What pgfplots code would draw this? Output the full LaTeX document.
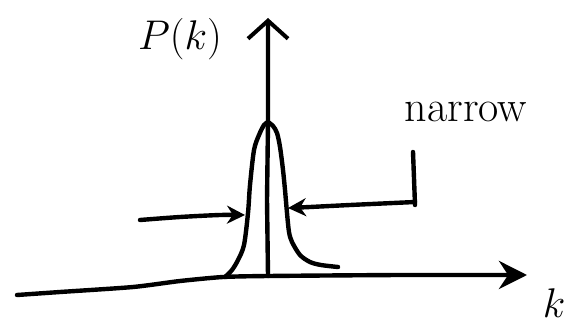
\documentclass[border=0pt]{standalone}
\usepackage{pgfplots}
\pgfplotsset{compat=1.18}
\usetikzlibrary{arrows.meta}

\begin{document}
\begin{tikzpicture}
\begin{axis}[
  x=0.5pt, y=0.5pt,
  xmin=0, xmax=576, ymin=0, ymax=327,
  hide axis, clip=false,
  every axis plot/.append style={black, line width=2.2pt, line cap=round, line join=round},
]
% frame for the page size
\path (rel axis cs:0,0) rectangle (rel axis cs:1,1);

% k axis (slightly sloping in from the left)
\addplot[smooth, tension=0.4, -{Stealth[length=14pt,width=14pt]}] coordinates {
  (17,32) (60,35) (133,40) (180,46) (223,50) (268,51) (400,52) (527,52)};

% P(k) axis
\addplot[-{Straight Barb[length=9pt,width=20pt,line width=2pt]}] coordinates {
  (268,51) (267,127) (268,205) (268,309)};

% narrow peak
\addplot[smooth, tension=0.5] coordinates {
  (225,50) (232,57) (238,67) (244,82) (248,114) (250,142) (254,177) (259,192) (264,202) (268,205)};
\addplot[smooth, tension=0.5] coordinates {
  (268,205) (273,201) (277,194) (280,180) (283,157) (285,137) (287,114) (289,95) (292,85) (300,72) (310,65) (321,62) (338,60)};

% width markers
\addplot[smooth, -{Stealth[length=9pt,width=9pt,open]}] coordinates {
  (140,107) (180,110) (220,112) (245,112)};
\addplot[smooth, -{Stealth[length=9pt,width=9pt,open]}] coordinates {
  (415,125) (350,122) (310,120) (288,119)};
\addplot[black, no markers] coordinates {(413,175) (415,122)};

% labels
\node[font=\fontsize{21}{21}\selectfont] at (axis cs:180,288) {$P(k)$};
\node[font=\fontsize{22}{22}\selectfont] at (axis cs:466,215) {narrow};
\node[font=\fontsize{21}{21}\selectfont] at (axis cs:554,24) {$k$};
\end{axis}
\end{tikzpicture}
\end{document}
